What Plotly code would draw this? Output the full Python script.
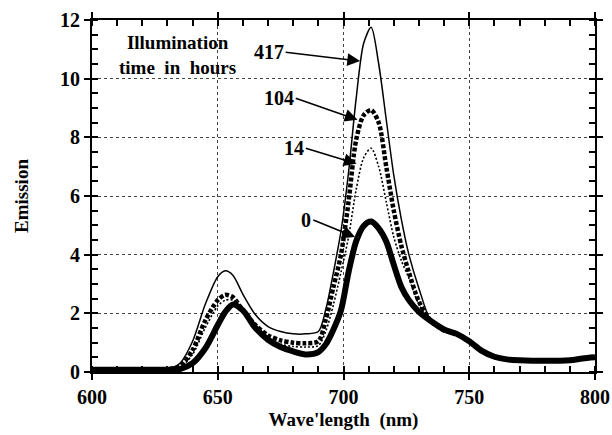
import plotly.graph_objects as go

wavelength = [600, 610, 620, 630, 635, 640, 645, 650, 653, 656, 660, 665, 670, 675, 680,
              685, 690, 693, 696, 699, 702, 705, 708, 711, 714, 717, 720, 723, 726, 730,
              735, 740, 745, 750, 755, 760, 765, 770, 780, 790, 795, 800]

em_0 = [0.08, 0.08, 0.08, 0.08, 0.1, 0.3, 0.8, 1.6, 2.05, 2.3, 2.1, 1.5, 1.1, 0.85, 0.7,
        0.6, 0.68, 0.95, 1.45, 2.1, 3.4, 4.45, 4.98, 5.13, 4.9, 4.45, 3.65, 2.9, 2.45, 2.05,
        1.72, 1.45, 1.3, 1.05, 0.72, 0.52, 0.43, 0.4, 0.38, 0.4, 0.46, 0.5]

em_14 = [0.08, 0.08, 0.08, 0.09, 0.15, 0.6, 1.5, 2.25, 2.45, 2.45, 2.1, 1.55, 1.15, 0.95, 0.87,
         0.85, 0.9, 1.4, 2.3, 3.4, 4.6, 6.2, 7.3, 7.63, 7.0, 5.8, 4.6, 3.8, 3.2, 2.3,
         1.72, 1.42, 1.3, 1.04, 0.72, 0.52, 0.43, 0.4, 0.38, 0.4, 0.46, 0.52]

em_104 = [0.08, 0.08, 0.08, 0.1, 0.2, 0.75, 1.75, 2.45, 2.63, 2.55, 2.1, 1.6, 1.25, 1.08, 1.0,
          0.98, 1.05, 1.8, 2.9, 4.0, 5.8, 7.9, 8.75, 8.93, 8.5, 7.0, 5.5, 4.3, 3.4, 2.4,
          1.72, 1.42, 1.3, 1.04, 0.72, 0.52, 0.43, 0.4, 0.38, 0.4, 0.46, 0.52]

em_417 = [0.08, 0.08, 0.08, 0.1, 0.3, 1.05, 2.3, 3.25, 3.45, 3.3, 2.65, 1.95, 1.55, 1.38, 1.3,
          1.3, 1.38, 2.15, 3.4, 4.8, 6.8, 9.3, 11.2, 11.75, 10.5, 8.6, 6.7, 5.2, 4.0, 2.85,
          1.7, 1.42, 1.28, 1.02, 0.72, 0.52, 0.42, 0.39, 0.38, 0.4, 0.45, 0.52]

label_text = ["417", "104", "14", "0"]
label_tail_x = [677, 681, 685, 688]
label_tail_y = [10.9, 9.33, 7.63, 5.18]
arrow_tip_x = [706.6, 705.6, 705.2, 704.6]
arrow_tip_y = [10.6, 8.6, 7.1, 4.6]

FONT = "Liberation Serif"

fig = go.Figure()
fig.add_trace(go.Scatter(x=wavelength, y=em_0, mode="lines", line=dict(color="black", width=6, shape="spline", smoothing=0.8), showlegend=False))
fig.add_trace(go.Scatter(x=wavelength, y=em_14, mode="lines", line=dict(color="black", width=1.6, dash="2px,2px", shape="spline", smoothing=0.8), showlegend=False))
fig.add_trace(go.Scatter(x=wavelength, y=em_104, mode="lines", line=dict(color="black", width=4.5, dash="4px,2px", shape="spline", smoothing=0.8), showlegend=False))
fig.add_trace(go.Scatter(x=wavelength, y=em_417, mode="lines", line=dict(color="black", width=1.5, shape="spline", smoothing=0.8), showlegend=False))

for t, tx, ty, hx, hy in zip(label_text, label_tail_x, label_tail_y, arrow_tip_x, arrow_tip_y):
    fig.add_annotation(x=hx, y=hy, ax=tx, ay=ty, axref="x", ayref="y", xref="x", yref="y",
                       text="<b>" + t + "</b>", showarrow=True, arrowhead=2, arrowsize=1.6,
                       arrowwidth=1.6, arrowcolor="black", xanchor="right", yanchor="middle",
                       font=dict(family=FONT, size=20, color="black"))

fig.add_annotation(x=634, y=10.8, xref="x", yref="y", text="<b>Illumination<br>time  in  hours</b>",
                   showarrow=False, font=dict(family=FONT, size=19, color="black"), align="center")

axis_common = dict(showline=True, linecolor="black", linewidth=2, mirror="ticks",
                   ticks="outside", ticklen=6, tickwidth=2, tickcolor="black",
                   showgrid=True, gridcolor="#444", griddash="dot", gridwidth=1,
                   zeroline=False, automargin=False,
                   tickfont=dict(family=FONT, size=20, color="black"))

fig.update_xaxes(range=[600, 800], tick0=600, dtick=50,
                 minor=dict(dtick=10, ticks="inside", ticklen=6, tickwidth=1.5, tickcolor="black", showgrid=False),
                 title=dict(text="<b>Wave'length  (nm)</b>", font=dict(family=FONT, size=19, color="black"), standoff=6),
                 tickformat="d", **axis_common)
fig.update_yaxes(range=[0, 12], tick0=0, dtick=2,
                 minor=dict(dtick=0.5, ticks="inside", ticklen=6, tickwidth=1.5, tickcolor="black", showgrid=False),
                 title=dict(text="<b>Emission</b>", font=dict(family=FONT, size=19, color="black"), standoff=26),
                 **axis_common)
fig.update_xaxes(tickprefix="<b>", ticksuffix="</b>")
fig.update_yaxes(tickprefix="<b>", ticksuffix="</b>")

fig.update_layout(width=612, height=435, margin=dict(l=92, r=17, t=20, b=63),
                  plot_bgcolor="white", paper_bgcolor="white")

# remove the browser's default page margin so the 612x435 figure fills the window exactly
fig.write_html("out.html", config={"displayModeBar": False},
               post_script="document.body.style.margin='0';document.body.style.overflow='hidden';")
